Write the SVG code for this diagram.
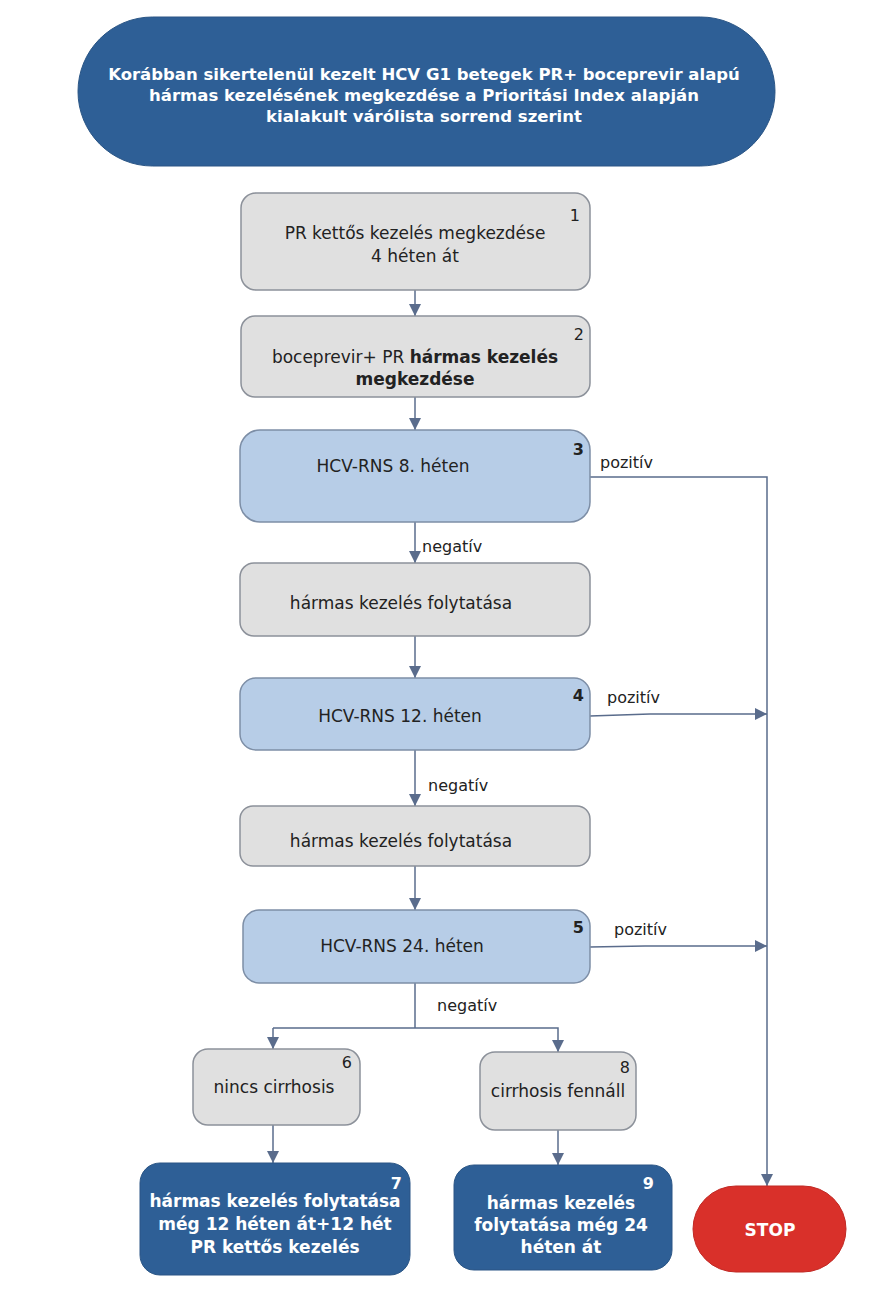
<svg xmlns="http://www.w3.org/2000/svg" width="888" height="1294" viewBox="0 0 888 1294">
<defs>
<marker id="ahb" viewBox="0 0 12 12" refX="12" refY="6" markerWidth="12" markerHeight="14" markerUnits="userSpaceOnUse" orient="auto">
<path d="M0,0 L12,6 L0,12 z" fill="#5a6c8c"/>
</marker>
</defs>
<style>
.gray{fill:#e0e0e0;stroke:#8c919a;stroke-width:1.5}
.blue{fill:#b7cde7;stroke:#7d8ea6;stroke-width:1.5}
.dark{fill:#2e5f96;stroke:#2a5585;stroke-width:1}
.red{fill:#d9302a;stroke:#c02823;stroke-width:1}
text{font-family:"DejaVu Sans",Verdana,sans-serif;font-size:17px;fill:#222;text-anchor:middle}
.w{fill:#fff;font-weight:bold}
.t{font-size:16.5px}
.b{font-weight:bold}
.n{font-size:16px;text-anchor:end}
.c{fill:none;stroke:#5a6c8c;stroke-width:1.5}
.lbl{text-anchor:start;font-size:16px}
</style>
<rect width="888" height="1294" fill="#fff"/>
<g id="connectors">
<path class="c" d="M415,290 V316" marker-end="url(#ahb)"/>
<path class="c" d="M415,397 V430" marker-end="url(#ahb)"/>
<path class="c" d="M415,522 V563" marker-end="url(#ahb)"/>
<path class="c" d="M415,636 V678" marker-end="url(#ahb)"/>
<path class="c" d="M415,750 V806" marker-end="url(#ahb)"/>
<path class="c" d="M415,866 V910" marker-end="url(#ahb)"/>
<path class="c" d="M590,477 H767 V1186" marker-end="url(#ahb)"/>
<path class="c" d="M590,716 L650,714 H767" marker-end="url(#ahb)"/>
<path class="c" d="M590,947 L645,946 H767" marker-end="url(#ahb)"/>
<path class="c" d="M415,983 V1028"/>
<path class="c" d="M273,1028 H558 V1052" marker-end="url(#ahb)"/>
<path class="c" d="M273,1028 V1049" marker-end="url(#ahb)"/>
<path class="c" d="M273,1125 V1163" marker-end="url(#ahb)"/>
<path class="c" d="M558,1130 V1165" marker-end="url(#ahb)"/>
<text class="lbl" x="600" y="468">pozitív</text>
<text class="lbl" x="607" y="703">pozitív</text>
<text class="lbl" x="614" y="935">pozitív</text>
<text class="lbl" x="422" y="552">negatív</text>
<text class="lbl" x="428" y="791">negatív</text>
<text class="lbl" x="437" y="1011">negatív</text>
</g>
<g id="title">
<rect x="78" y="17" width="697" height="149" rx="74.5" class="dark"/>
<text class="w t" x="424" y="80">Korábban sikertelenül kezelt HCV G1 betegek PR+ boceprevir alapú</text>
<text class="w t" x="424" y="101">hármas kezelésének megkezdése a Prioritási Index alapján</text>
<text class="w t" x="424" y="122">kialakult várólista sorrend szerint</text>
</g>
<g id="n1">
<rect x="241" y="193" width="349" height="97" rx="15" class="gray"/>
<text x="415" y="239">PR kettős kezelés megkezdése</text>
<text x="415" y="262">4 héten át</text>
<text class="n" x="580" y="221">1</text>
</g>
<g id="n2">
<rect x="241" y="316" width="349" height="81" rx="14" class="gray"/>
<text x="415" y="363">boceprevir+ PR <tspan class="b">hármas kezelés</tspan></text>
<text class="b" x="415" y="385">megkezdése</text>
<text class="n" x="584" y="340">2</text>
</g>
<g id="n3">
<rect x="240" y="430" width="350" height="92" rx="20" class="blue"/>
<text x="393" y="472">HCV-RNS 8. héten</text>
<text class="n b" x="584" y="455">3</text>
</g>
<g id="c1">
<rect x="240" y="563" width="350" height="73" rx="14" class="gray"/>
<text x="401" y="609">hármas kezelés folytatása</text>
</g>
<g id="n4">
<rect x="240" y="678" width="350" height="72" rx="16" class="blue"/>
<text x="400" y="722">HCV-RNS 12. héten</text>
<text class="n b" x="584" y="701">4</text>
</g>
<g id="c2">
<rect x="240" y="806" width="350" height="60" rx="13" class="gray"/>
<text x="401" y="847">hármas kezelés folytatása</text>
</g>
<g id="n5">
<rect x="243" y="910" width="347" height="73" rx="16" class="blue"/>
<text x="402" y="952">HCV-RNS 24. héten</text>
<text class="n b" x="584" y="933">5</text>
</g>
<g id="n6">
<rect x="193" y="1049" width="167" height="76" rx="15" class="gray"/>
<text x="274" y="1093">nincs cirrhosis</text>
<text class="n" x="352" y="1068">6</text>
</g>
<g id="n8">
<rect x="480" y="1052" width="156" height="78" rx="15" class="gray"/>
<text x="558" y="1097">cirrhosis fennáll</text>
<text class="n" x="630" y="1073">8</text>
</g>
<g id="n7">
<rect x="140" y="1163" width="270" height="112" rx="20" class="dark"/>
<text class="w" x="275" y="1207">hármas kezelés folytatása</text>
<text class="w" x="275" y="1230">még 12 héten át+12 hét</text>
<text class="w" x="275" y="1253">PR kettős kezelés</text>
<text class="w n" x="402" y="1189">7</text>
</g>
<g id="n9">
<rect x="454" y="1165" width="218" height="105" rx="20" class="dark"/>
<text class="w" x="561" y="1209">hármas kezelés</text>
<text class="w" x="561" y="1231">folytatása még 24</text>
<text class="w" x="561" y="1253">héten át</text>
<text class="w n" x="654" y="1189">9</text>
</g>
<g id="stop">
<rect x="693" y="1186" width="153" height="86" rx="43" class="red"/>
<text class="w" x="770" y="1236">STOP</text>
</g>
</svg>
